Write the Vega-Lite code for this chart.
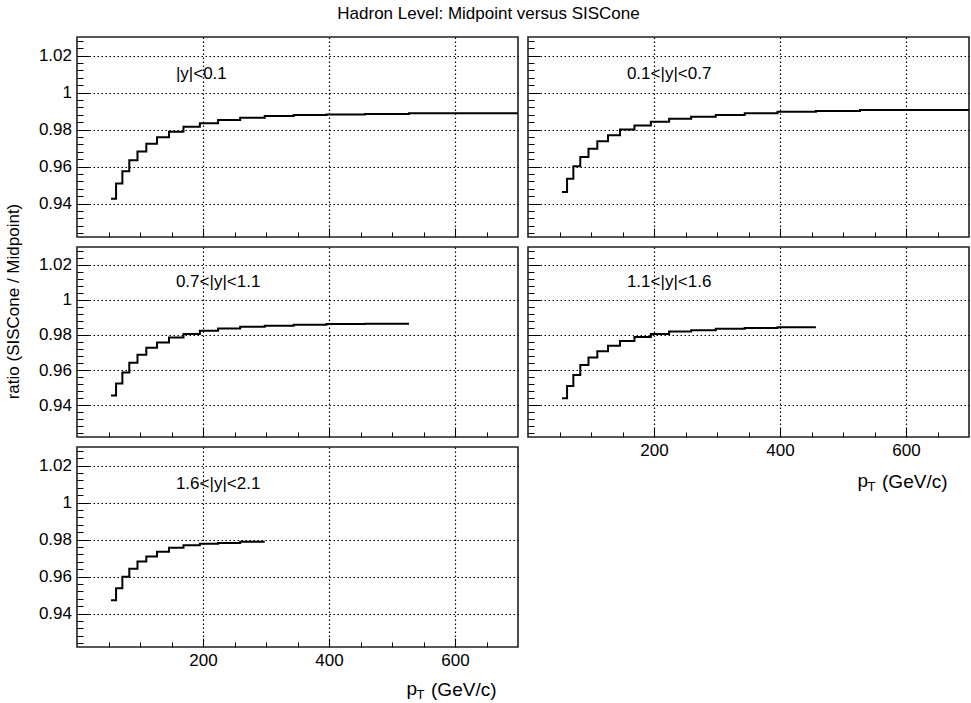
{
  "$schema": "https://vega.github.io/schema/vega-lite/v6.json",
  "background": "white",
  "padding": {"left": 3, "top": 4, "right": 2, "bottom": 2},
  "title": {"text": "Hadron Level: Midpoint versus SISCone", "fontSize": 17, "font": "Liberation Sans", "fontWeight": "normal", "color": "#000", "anchor": "middle", "offset": 8},
  "config": {
    "view": {"stroke": "#222", "strokeWidth": 1.6},
    "axis": {"domain": false, "tickCount": 100, "tickColor": "#000", "tickWidth": 1, "gridColor": "#000", "gridDash": [1.5, 2.5], "gridWidth": 1.2, "labelFont": "Liberation Sans", "labelFontSize": 17, "labelColor": "#000", "labelOverlap": false, "labelFlush": false, "titleFont": "Liberation Sans", "titleFontSize": 18, "titleFontWeight": "normal", "titleColor": "#000"},
    "text": {"font": "Liberation Sans", "color": "#000"}
  },
  "datasets": {
    "tl": [
      {"pt": 54, "ratio": 0.9427}, {"pt": 62, "ratio": 0.9509}, {"pt": 72, "ratio": 0.9575}, {"pt": 83, "ratio": 0.9634},
      {"pt": 96, "ratio": 0.9682}, {"pt": 110, "ratio": 0.9723}, {"pt": 127, "ratio": 0.9759}, {"pt": 146, "ratio": 0.9789},
      {"pt": 169, "ratio": 0.9816}, {"pt": 195, "ratio": 0.9834}, {"pt": 224, "ratio": 0.9852}, {"pt": 259, "ratio": 0.9864},
      {"pt": 298, "ratio": 0.9873}, {"pt": 344, "ratio": 0.9879}, {"pt": 396, "ratio": 0.9882}, {"pt": 457, "ratio": 0.9884},
      {"pt": 527, "ratio": 0.9888}, {"pt": 700, "ratio": 0.9888}
    ],
    "tr": [
      {"pt": 54, "ratio": 0.9463}, {"pt": 62, "ratio": 0.9535}, {"pt": 72, "ratio": 0.9602}, {"pt": 83, "ratio": 0.9652},
      {"pt": 96, "ratio": 0.9697}, {"pt": 110, "ratio": 0.9737}, {"pt": 127, "ratio": 0.9769}, {"pt": 146, "ratio": 0.98},
      {"pt": 169, "ratio": 0.9822}, {"pt": 195, "ratio": 0.9842}, {"pt": 224, "ratio": 0.9858}, {"pt": 259, "ratio": 0.987},
      {"pt": 298, "ratio": 0.9879}, {"pt": 344, "ratio": 0.9888}, {"pt": 396, "ratio": 0.9897}, {"pt": 457, "ratio": 0.9901},
      {"pt": 527, "ratio": 0.9906}, {"pt": 700, "ratio": 0.9906}
    ],
    "ml": [
      {"pt": 54, "ratio": 0.9456}, {"pt": 62, "ratio": 0.9524}, {"pt": 72, "ratio": 0.9586}, {"pt": 83, "ratio": 0.9642},
      {"pt": 96, "ratio": 0.9687}, {"pt": 110, "ratio": 0.9727}, {"pt": 127, "ratio": 0.9757}, {"pt": 146, "ratio": 0.9785},
      {"pt": 169, "ratio": 0.9806}, {"pt": 195, "ratio": 0.9824}, {"pt": 224, "ratio": 0.9837}, {"pt": 259, "ratio": 0.9847},
      {"pt": 298, "ratio": 0.9852}, {"pt": 344, "ratio": 0.9858}, {"pt": 396, "ratio": 0.9862}, {"pt": 457, "ratio": 0.9864},
      {"pt": 527, "ratio": 0.9864}
    ],
    "mr": [
      {"pt": 54, "ratio": 0.944}, {"pt": 62, "ratio": 0.951}, {"pt": 72, "ratio": 0.9572}, {"pt": 83, "ratio": 0.9629},
      {"pt": 96, "ratio": 0.9672}, {"pt": 110, "ratio": 0.9708}, {"pt": 127, "ratio": 0.9738}, {"pt": 146, "ratio": 0.9765},
      {"pt": 169, "ratio": 0.9789}, {"pt": 195, "ratio": 0.9806}, {"pt": 224, "ratio": 0.982}, {"pt": 259, "ratio": 0.9827},
      {"pt": 298, "ratio": 0.9835}, {"pt": 344, "ratio": 0.984}, {"pt": 396, "ratio": 0.9844}, {"pt": 457, "ratio": 0.9844}
    ],
    "bl": [
      {"pt": 54, "ratio": 0.9473}, {"pt": 62, "ratio": 0.9537}, {"pt": 72, "ratio": 0.96}, {"pt": 83, "ratio": 0.9643},
      {"pt": 96, "ratio": 0.9682}, {"pt": 110, "ratio": 0.9709}, {"pt": 127, "ratio": 0.9735}, {"pt": 146, "ratio": 0.9756},
      {"pt": 169, "ratio": 0.9769}, {"pt": 195, "ratio": 0.9777}, {"pt": 224, "ratio": 0.9782}, {"pt": 259, "ratio": 0.9788},
      {"pt": 298, "ratio": 0.9788}
    ]
  },
  "columns": 2,
  "spacing": 10,
  "bounds": "flush",
  "align": "each",
  "concat": [
    {
      "width": 441, "height": 200,
      "layer": [
        {
          "data": {"name": "tl"},
          "mark": {"type": "line", "interpolate": "step-after", "color": "#000", "strokeWidth": 2},
          "encoding": {
            "x": {"field": "pt", "type": "quantitative", "scale": {"domain": [0, 700], "nice": false, "zero": false},
              "axis": {"values": [50,100,150,200,250,300,350,400,450,500,550,600,650], "labels": false, "title": null,
                "gridOpacity": {"condition": {"test": "datum.value % 200 === 0", "value": 1}, "value": 0},
                "tickSize": {"condition": {"test": "datum.value % 200 === 0", "value": -9}, "value": -5}}},
            "y": {"field": "ratio", "type": "quantitative", "scale": {"domain": [0.922, 1.03], "nice": false, "zero": false},
              "axis": {"values": [0.924,0.928,0.932,0.936,0.94,0.944,0.948,0.952,0.956,0.96,0.964,0.968,0.972,0.976,0.98,0.984,0.988,0.992,0.996,1.0,1.004,1.008,1.012,1.016,1.02,1.024,1.028], "title": null,
                "labelExpr": "abs(datum.value*50 - round(datum.value*50)) < 0.001 ? toString(round(datum.value*100)/100) : ''",
                "labelPadding": 17.5,
                "gridOpacity": {"condition": {"test": "abs(datum.value*50 - round(datum.value*50)) < 0.001", "value": 1}, "value": 0},
                "tickSize": {"condition": {"test": "abs(datum.value*50 - round(datum.value*50)) < 0.001", "value": -12}, "value": -6}}}
          }
        },
        {
          "data": {"values": [{}]},
          "mark": {"type": "text", "text": "|y|<0.1", "align": "left", "baseline": "middle", "fontSize": 17},
          "encoding": {"x": {"datum": 157}, "y": {"datum": 1.01}}
        }
      ]
    },
    {
      "width": 441, "height": 200,
      "layer": [
        {
          "data": {"name": "tr"},
          "mark": {"type": "line", "interpolate": "step-after", "color": "#000", "strokeWidth": 2},
          "encoding": {
            "x": {"field": "pt", "type": "quantitative", "scale": {"domain": [0, 700], "nice": false, "zero": false},
              "axis": {"values": [50,100,150,200,250,300,350,400,450,500,550,600,650], "labels": false, "title": null,
                "gridOpacity": {"condition": {"test": "datum.value % 200 === 0", "value": 1}, "value": 0},
                "tickSize": {"condition": {"test": "datum.value % 200 === 0", "value": -9}, "value": -5}}},
            "y": {"field": "ratio", "type": "quantitative", "scale": {"domain": [0.922, 1.03], "nice": false, "zero": false},
              "axis": {"values": [0.924,0.928,0.932,0.936,0.94,0.944,0.948,0.952,0.956,0.96,0.964,0.968,0.972,0.976,0.98,0.984,0.988,0.992,0.996,1.0,1.004,1.008,1.012,1.016,1.02,1.024,1.028], "title": null, "labels": false,
                "gridOpacity": {"condition": {"test": "abs(datum.value*50 - round(datum.value*50)) < 0.001", "value": 1}, "value": 0},
                "tickSize": {"condition": {"test": "abs(datum.value*50 - round(datum.value*50)) < 0.001", "value": -12}, "value": -6}}}
          }
        },
        {
          "data": {"values": [{}]},
          "mark": {"type": "text", "text": "0.1<|y|<0.7", "align": "left", "baseline": "middle", "fontSize": 17},
          "encoding": {"x": {"datum": 157}, "y": {"datum": 1.01}}
        }
      ]
    },
    {
      "width": 441, "height": 190,
      "layer": [
        {
          "data": {"name": "ml"},
          "mark": {"type": "line", "interpolate": "step-after", "color": "#000", "strokeWidth": 2},
          "encoding": {
            "x": {"field": "pt", "type": "quantitative", "scale": {"domain": [0, 700], "nice": false, "zero": false},
              "axis": {"values": [50,100,150,200,250,300,350,400,450,500,550,600,650], "labels": false, "title": null,
                "gridOpacity": {"condition": {"test": "datum.value % 200 === 0", "value": 1}, "value": 0},
                "tickSize": {"condition": {"test": "datum.value % 200 === 0", "value": -9}, "value": -5}}},
            "y": {"field": "ratio", "type": "quantitative", "scale": {"domain": [0.922, 1.03], "nice": false, "zero": false},
              "axis": {"values": [0.924,0.928,0.932,0.936,0.94,0.944,0.948,0.952,0.956,0.96,0.964,0.968,0.972,0.976,0.98,0.984,0.988,0.992,0.996,1.0,1.004,1.008,1.012,1.016,1.02,1.024,1.028],
                "title": "ratio (SISCone / Midpoint)", "titleX": -59, "titleY": 54, "titleAlign": "center", "titleBaseline": "alphabetic", "titleAngle": -90, "titleFontSize": 17,
                "labelExpr": "abs(datum.value*50 - round(datum.value*50)) < 0.001 ? toString(round(datum.value*100)/100) : ''",
                "labelPadding": 17.5,
                "gridOpacity": {"condition": {"test": "abs(datum.value*50 - round(datum.value*50)) < 0.001", "value": 1}, "value": 0},
                "tickSize": {"condition": {"test": "abs(datum.value*50 - round(datum.value*50)) < 0.001", "value": -12}, "value": -6}}}
          }
        },
        {
          "data": {"values": [{}]},
          "mark": {"type": "text", "text": "0.7<|y|<1.1", "align": "left", "baseline": "middle", "fontSize": 17},
          "encoding": {"x": {"datum": 157}, "y": {"datum": 1.01}}
        }
      ]
    },
    {
      "width": 441, "height": 190,
      "layer": [
        {
          "data": {"name": "mr"},
          "mark": {"type": "line", "interpolate": "step-after", "color": "#000", "strokeWidth": 2},
          "encoding": {
            "x": {"field": "pt", "type": "quantitative", "scale": {"domain": [0, 700], "nice": false, "zero": false},
              "axis": {"values": [50,100,150,200,250,300,350,400,450,500,550,600,650],
                "title": "(GeV/c)", "titleX": 419, "titleY": 50, "titleAlign": "right", "titleBaseline": "alphabetic", "titleAnchor": "end", "titleFontSize": 19,
                "labelExpr": "datum.value % 200 === 0 ? datum.label : ''",
                "labelPadding": 14,
                "gridOpacity": {"condition": {"test": "datum.value % 200 === 0", "value": 1}, "value": 0},
                "tickSize": {"condition": {"test": "datum.value % 200 === 0", "value": -9}, "value": -5}}},
            "y": {"field": "ratio", "type": "quantitative", "scale": {"domain": [0.922, 1.03], "nice": false, "zero": false},
              "axis": {"values": [0.924,0.928,0.932,0.936,0.94,0.944,0.948,0.952,0.956,0.96,0.964,0.968,0.972,0.976,0.98,0.984,0.988,0.992,0.996,1.0,1.004,1.008,1.012,1.016,1.02,1.024,1.028], "title": null, "labels": false,
                "gridOpacity": {"condition": {"test": "abs(datum.value*50 - round(datum.value*50)) < 0.001", "value": 1}, "value": 0},
                "tickSize": {"condition": {"test": "abs(datum.value*50 - round(datum.value*50)) < 0.001", "value": -12}, "value": -6}}}
          }
        },
        {
          "data": {"values": [{}]},
          "mark": {"type": "text", "text": "1.1<|y|<1.6", "align": "left", "baseline": "middle", "fontSize": 17},
          "encoding": {"x": {"datum": 157}, "y": {"datum": 1.01}}
        },
        {
          "data": {"values": [{}]},
          "mark": {"type": "text", "text": "p", "align": "left", "baseline": "alphabetic", "fontSize": 19, "dy": 50},
          "encoding": {"x": {"datum": 523}, "y": {"datum": 0.922}}
        },
        {
          "data": {"values": [{}]},
          "mark": {"type": "text", "text": "T", "align": "left", "baseline": "alphabetic", "fontSize": 13, "dy": 54},
          "encoding": {"x": {"datum": 539}, "y": {"datum": 0.922}}
        }
      ]
    },
    {
      "width": 441, "height": 200,
      "layer": [
        {
          "data": {"name": "bl"},
          "mark": {"type": "line", "interpolate": "step-after", "color": "#000", "strokeWidth": 2},
          "encoding": {
            "x": {"field": "pt", "type": "quantitative", "scale": {"domain": [0, 700], "nice": false, "zero": false},
              "axis": {"values": [50,100,150,200,250,300,350,400,450,500,550,600,650],
                "title": "(GeV/c)", "titleX": 419, "titleY": 48, "titleAlign": "right", "titleBaseline": "alphabetic", "titleAnchor": "end", "titleFontSize": 19,
                "labelExpr": "datum.value % 200 === 0 ? datum.label : ''",
                "labelPadding": 14,
                "gridOpacity": {"condition": {"test": "datum.value % 200 === 0", "value": 1}, "value": 0},
                "tickSize": {"condition": {"test": "datum.value % 200 === 0", "value": -9}, "value": -5}}},
            "y": {"field": "ratio", "type": "quantitative", "scale": {"domain": [0.922, 1.03], "nice": false, "zero": false},
              "axis": {"values": [0.924,0.928,0.932,0.936,0.94,0.944,0.948,0.952,0.956,0.96,0.964,0.968,0.972,0.976,0.98,0.984,0.988,0.992,0.996,1.0,1.004,1.008,1.012,1.016,1.02,1.024,1.028], "title": null,
                "labelExpr": "abs(datum.value*50 - round(datum.value*50)) < 0.001 ? toString(round(datum.value*100)/100) : ''",
                "labelPadding": 17.5,
                "gridOpacity": {"condition": {"test": "abs(datum.value*50 - round(datum.value*50)) < 0.001", "value": 1}, "value": 0},
                "tickSize": {"condition": {"test": "abs(datum.value*50 - round(datum.value*50)) < 0.001", "value": -12}, "value": -6}}}
          }
        },
        {
          "data": {"values": [{}]},
          "mark": {"type": "text", "text": "1.6<|y|<2.1", "align": "left", "baseline": "middle", "fontSize": 17},
          "encoding": {"x": {"datum": 157}, "y": {"datum": 1.01}}
        },
        {
          "data": {"values": [{}]},
          "mark": {"type": "text", "text": "p", "align": "left", "baseline": "alphabetic", "fontSize": 19, "dy": 48},
          "encoding": {"x": {"datum": 523}, "y": {"datum": 0.922}}
        },
        {
          "data": {"values": [{}]},
          "mark": {"type": "text", "text": "T", "align": "left", "baseline": "alphabetic", "fontSize": 13, "dy": 52},
          "encoding": {"x": {"datum": 539}, "y": {"datum": 0.922}}
        }
      ]
    }
  ]
}
